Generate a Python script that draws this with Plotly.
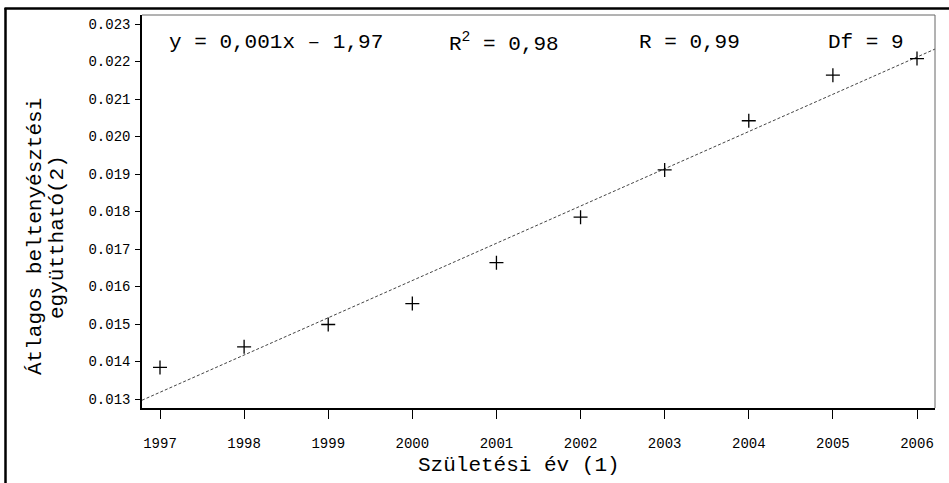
import numpy as np
import plotly.graph_objects as go

years = [1997, 1998, 1999, 2000, 2001, 2002, 2003, 2004, 2005, 2006]
coef = [0.013843, 0.014391, 0.014987, 0.015545, 0.016636, 0.01785,
        0.019109, 0.02042, 0.021636, 0.022077]
stats_labels = ["y = 0,001x \u2013 1,97", "R<sup>2</sup> = 0,98", "R = 0,99", "Df = 9"]
x_title = "Születési év (1)"
y_title_lines = ["Átlagos beltenyésztési", "együttható(2)"]

x_range = [1996.786, 2006.214]
y_range = [0.01276, 0.02324]

slope, intercept = np.polyfit(years, coef, 1)
fit_x = np.array(x_range)
fit_y = slope * fit_x + intercept

MONO = "Liberation Mono, Courier New, monospace"

fig = go.Figure()
fig.add_trace(go.Scatter(x=fit_x, y=fit_y, mode="lines",
                         line=dict(color="#444", width=1, dash="3px,2px"),
                         hoverinfo="skip", showlegend=False))
fig.add_trace(go.Scatter(x=years, y=coef, mode="markers",
                         marker=dict(symbol="cross-thin", size=10,
                                     line=dict(color="black", width=1.3)),
                         showlegend=False))

L, R, T, B = 142, 14, 15, 75
W, H = 949, 483
pw, ph = W - L - R, H - T - B

def px(x):
    return (x - L) / pw

def py(y):
    return (H - B - y) / ph

fig.update_layout(
    width=W, height=H,
    margin=dict(l=L, r=R, t=T, b=B),
    paper_bgcolor="white", plot_bgcolor="white",
    font=dict(family=MONO, color="black"),
    xaxis=dict(range=x_range, tickmode="array", tickvals=years,
               ticktext=[str(y) for y in years],
               showgrid=False, zeroline=False, showline=True,
               linecolor="black", linewidth=1.5,
               ticks="outside", ticklen=9, tickcolor="black", tickwidth=1,
               tickfont=dict(family=MONO, size=14, color="black"),
               ticklabelstandoff=12),
    yaxis=dict(range=y_range, tick0=0.013, dtick=0.001, tickformat=".3f",
               showgrid=False, zeroline=False, showline=True,
               linecolor="black", linewidth=1.5,
               ticks="outside", ticklen=5, tickcolor="black", tickwidth=1,
               tickfont=dict(family=MONO, size=14, color="black"),
               ticklabelstandoff=2),
    showlegend=False,
)

shapes = [
    dict(type="line", xref="paper", yref="paper", x0=0, x1=1, y0=1, y1=1,
         line=dict(color="#666", width=1)),
    dict(type="line", xref="paper", yref="paper", x0=1, x1=1, y0=0, y1=1,
         line=dict(color="#666", width=1)),
    dict(type="line", xref="paper", yref="paper", x0=px(5.5), x1=px(5.5),
         y0=py(8), y1=py(490), line=dict(color="black", width=2.5)),
    dict(type="line", xref="paper", yref="paper", x0=px(4.5), x1=px(960),
         y0=py(8.5), y1=py(8.5), line=dict(color="black", width=2.5)),
]
fig.update_layout(shapes=shapes)

ann = []
stat_x = [167, 447, 637, 826]
for s, xx in zip(stats_labels, stat_x):
    ann.append(dict(text=s, xref="paper", yref="paper", x=px(xx), y=py(42),
                    xanchor="left", yanchor="middle", showarrow=False,
                    font=dict(family=MONO, size=21, color="black")))
ann.append(dict(text=x_title, xref="paper", yref="paper", x=px(519), y=py(466),
                xanchor="center", yanchor="middle", showarrow=False,
                font=dict(family=MONO, size=21, color="black")))
for line, xx in zip(y_title_lines, [35, 57]):
    ann.append(dict(text=line, xref="paper", yref="paper", x=px(xx), y=py(237),
                    xanchor="center", yanchor="middle", showarrow=False,
                    textangle=-90,
                    font=dict(family=MONO, size=21, color="black")))
fig.update_layout(annotations=ann)

fig.write_html("out.html",
               config={"displayModeBar": False},
               post_script="document.body.style.margin='0';document.body.style.overflow='hidden';")
